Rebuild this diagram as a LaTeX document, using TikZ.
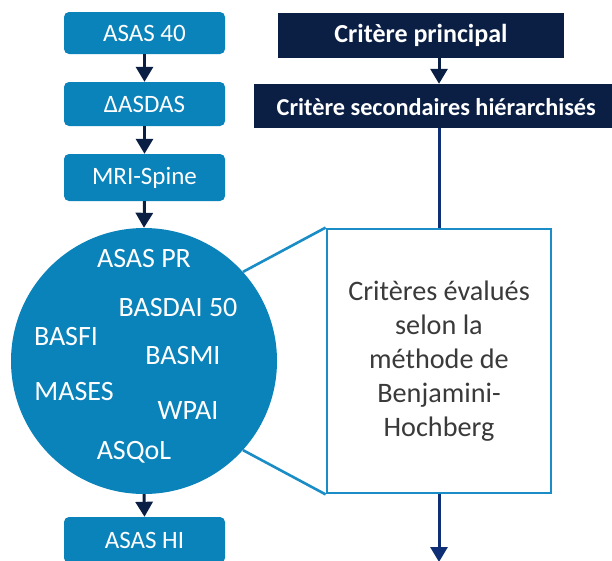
\documentclass[tikz,border=0pt]{standalone}
\usepackage{fontspec}
\setmainfont{Carlito}
\usetikzlibrary{arrows.meta}
\definecolor{lblue}{HTML}{0A82BA}
\definecolor{navy}{HTML}{0B1F45}
\definecolor{dblue}{HTML}{0E2F75}
\definecolor{bord}{HTML}{1A8CC6}
\definecolor{gtext}{HTML}{3A3A3A}
\tikzset{
  lbox/.style={draw=none, fill=lblue, rounded corners=5pt, minimum width=161pt, text=white, font=\fontsize{25}{29}\selectfont, inner sep=0pt},
  nbox/.style={draw=none, fill=navy, text=white, inner sep=0pt},
  ctext/.style={text=white, font=\fontsize{28}{32}\selectfont, inner sep=0pt},
  larrow/.style={draw=navy, line width=3pt, -{Triangle[length=15pt, width=17pt]}},
  rarrow/.style={draw=dblue, line width=3pt, -{Triangle[length=15pt, width=17pt]}},
  callout/.style={draw=bord, line width=2.6pt}
}
\begin{document}
\begin{tikzpicture}[x=1pt, y=-1pt]
\useasboundingbox (0,0) rectangle (612,560);
\clip (0,0) rectangle (612,560);
% left column
\node[lbox, minimum height=42pt] (a1) at (144.5,33) {ASAS 40};
\node[lbox, minimum height=44pt] (a2) at (144.5,104) {ΔASDAS};
\node[lbox, minimum height=47pt] (a3) at (144.5,177.5) {MRI-Spine};
\node[circle, fill=lblue, minimum size=266pt, inner sep=0pt] (c) at (144,361) {};
\node[lbox, minimum height=46pt] (a4) at (144.5,540) {ASAS HI};
\node[ctext] (t1) at (144,259) {ASAS PR};
\node[ctext] (t2) at (178,308) {BASDAI 50};
\node[ctext] (t3) at (66,337) {BASFI};
\node[ctext] (t4) at (183,356) {BASMI};
\node[ctext] (t5) at (74,392) {MASES};
\node[ctext] (t6) at (188,411) {WPAI};
\node[ctext] (t7) at (134,452) {ASQoL};
\draw[larrow] (a1.south) -- (a2.north);
\draw[larrow] (a2.south) -- (a3.north);
\draw[larrow] (a3.south) -- (c.north);
\draw[larrow] (c.south) -- (a4.north);
% right column
\node[nbox, minimum width=286pt, minimum height=45pt, font=\bfseries\fontsize{26}{30}\selectfont] (p) at (421,35) {\raisebox{-2pt}{Critère principal}};
\node[nbox, minimum width=362pt, minimum height=44pt] (s) at (435,106) {};
\node[text=white, inner sep=0pt, anchor=west, font=\bfseries\fontsize{24.3}{28}\selectfont] (st) at (276.5,107) {Critère secondaires hiérarchisés};
\node[draw=bord, line width=2.8pt, fill=white, minimum width=224pt, minimum height=264pt, inner sep=0pt, text=gtext, align=center, font=\fontsize{28.2}{34}\selectfont] (b) at (439,361) {Critères évalués\\selon la\\méthode de\\Benjamini-\\Hochberg};
\coordinate (bot) at (439,562);
\draw[larrow] (p.south -| b.north) -- (s.north -| b.north);
\draw[draw=dblue, line width=3pt] (s.south -| b.north) -- (b.north);
\draw[rarrow] (b.south) -- (bot);
\draw[callout] (c.42) -- (b.north west);
\draw[callout] (c.-42) -- (b.south west);
\end{tikzpicture}
\end{document}
